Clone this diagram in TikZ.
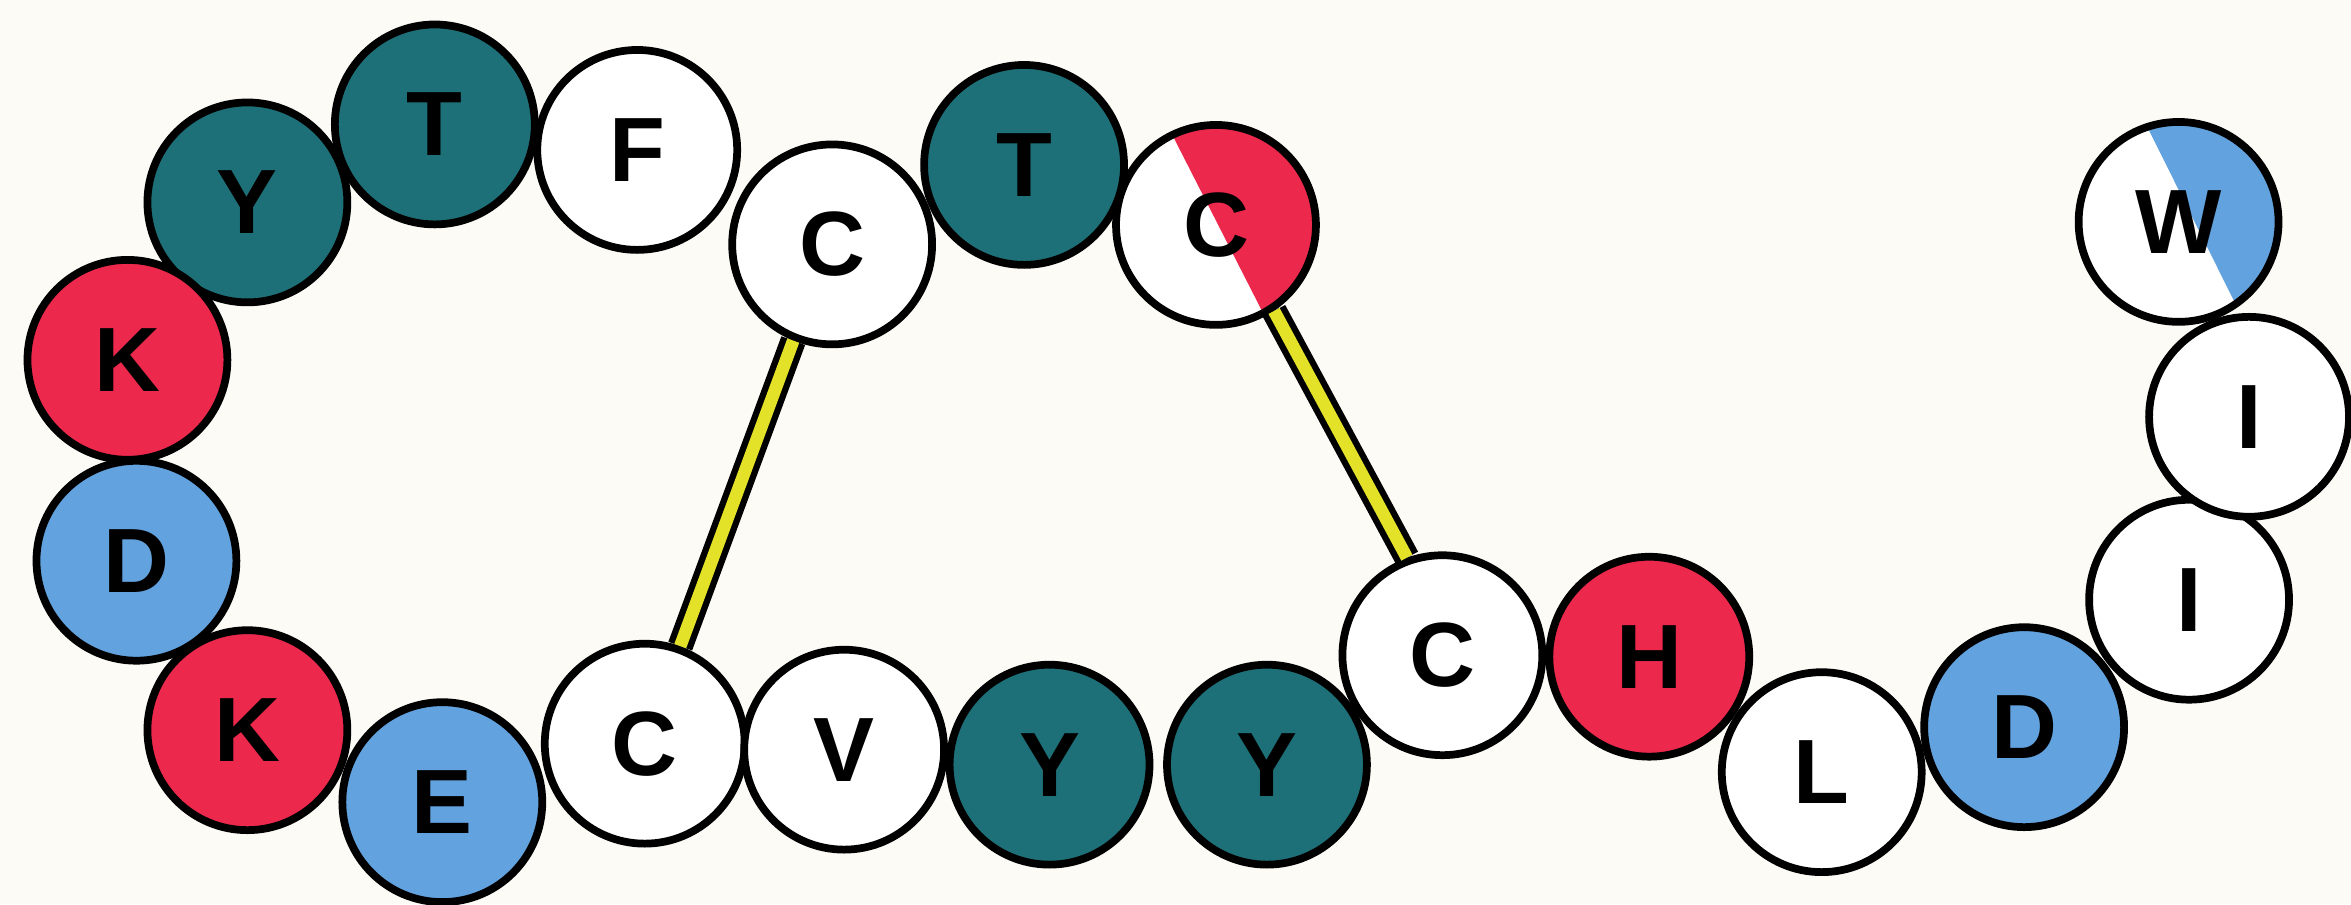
\documentclass[tikz,border=0pt]{standalone}
\usepackage{fontspec}
\setmainfont{Liberation Sans}
\definecolor{bg}{RGB}{253,251,246}
\definecolor{tealc}{RGB}{30,112,120}
\definecolor{redc}{RGB}{236,40,76}
\definecolor{bluec}{RGB}{98,162,222}
\definecolor{yel}{RGB}{228,226,40}
\newcommand{\dn}[2]{\raisebox{-#1cm}{#2}}
\tikzset{
  res/.style={circle, draw=black, line width=2.2pt, minimum size=2.0cm, inner sep=0pt,
    font=\fontsize{26}{26}\selectfont\bfseries},
  wres/.style={res, fill=white},
  tres/.style={res, fill=tealc},
  rres/.style={res, fill=redc},
  bres/.style={res, fill=bluec},
  ssbond/.style={line width=1.8pt, draw=black, double=yel, double distance=3.6pt},
}
\begin{document}
\begin{tikzpicture}[x=0.015cm, y=-0.015cm]
\fill[bg] (0,0) rectangle (1568,603);
\useasboundingbox (0,0) rectangle (1568,603);
% top arc
\node[tres] (Y1) at (165,135) {Y};
\node[tres] (T1) at (290,83) {\dn{0.12}{T}};
\node[wres] (F)  at (425,100) {\dn{0.08}{F}};
\node[wres] (C1) at (555,163) {C};
\node[tres] (T2) at (683,110) {T};
\node[wres, path picture={\fill[redc] (path picture bounding box.center) ++(116:1.1cm) arc[start angle=116, end angle=-62, radius=1.1cm] -- cycle;}] (C2) at (811,150) {C};
% left
\node[rres] (K1) at (85,240) {K};
\node[bres] (D1) at (91,374) {D};
% bottom
\node[rres] (K2) at (165,487) {\dn{0.06}{K}};
\node[bres] (E)  at (295,535) {\dn{0.18}{E}};
\node[wres] (C3) at (430,496) {C};
\node[wres] (V)  at (563,500) {V};
\node[tres] (Y3) at (700,510) {\dn{0.15}{Y}};
\node[tres] (Y4) at (845,510) {\dn{0.12}{Y}};
\node[wres] (C4) at (962,437) {C};
\node[rres] (H)  at (1100,438) {H};
\node[wres] (L)  at (1215,515) {\dn{0.15}{L}};
\node[bres] (D2) at (1350,485) {\dn{0.08}{D}};
\node[wres] (I1) at (1460,400) {I};
\node[wres] (I2) at (1500,278) {I};
\node[wres, path picture={\fill[bluec] (path picture bounding box.center) ++(109:1.1cm) arc[start angle=109, end angle=-56, radius=1.1cm] -- cycle;}] (W) at (1453,148) {W};
% disulfide bonds
\draw[ssbond] (C1.-112) -- (C3.70);
\draw[ssbond] (C2.-56) -- (C4.110);
\end{tikzpicture}
\end{document}
